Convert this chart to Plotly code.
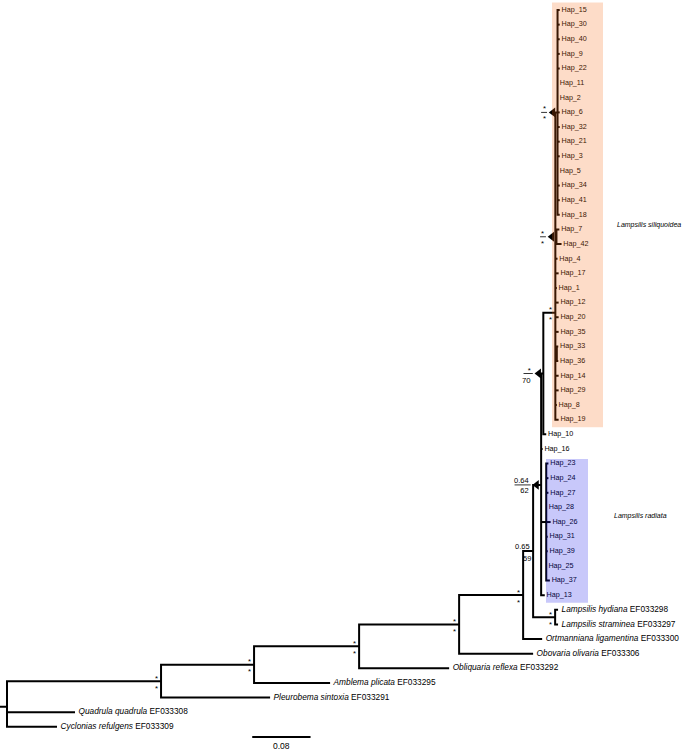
import plotly.graph_objects as go

# ---------------- data: tree topology, branch lengths (subst./site) and support ----------------
# "^" prefix marks support labels that are drawn with a pointer triangle
A_CLADE = ("(Hap_15:0.003,Hap_30:0.003,Hap_40:0.003,Hap_9:0.003,Hap_22:0.003,Hap_11:0.0005,"
           "Hap_2:0.0005,Hap_6:0.003,Hap_32:0.003,Hap_21:0.003,Hap_3:0.003,Hap_5:0.0005,"
           "Hap_34:0.003,Hap_41:0.003,Hap_18:0.003)^*/*:0.003")
C_CLADE = "(Hap_7:0.004,Hap_42:0.007)^*/*:0.0015"
D_CLADE = "(Hap_33:0.002,Hap_36:0.002):0.002"
SILIQUOIDEA = ("(" + A_CLADE + "," + C_CLADE + ",Hap_4:0.003,Hap_17:0.0045,Hap_1:0.002,Hap_12:0.0045,"
               "Hap_20:0.0045,Hap_35:0.0045," + D_CLADE + ",Hap_14:0.0045,Hap_29:0.0045,Hap_8:0.002,"
               "Hap_19:0.0045)*/*:0.0165")
N70 = "(" + SILIQUOIDEA + ",Hap_10:0.004)^*/70:0.003"
RADIATA = ("(Hap_23:0.003,Hap_24:0.003,Hap_27:0.003,Hap_28:0.001,Hap_26:0.006,Hap_31:0.002,"
           "Hap_39:0.002,Hap_25:0.0005,Hap_37:0.005):0.007")
N064 = "(" + N70 + ",Hap_16:0.002," + RADIATA + ",Hap_13:0.005)^0.64/62:0.011"
HYD_STR = "(Lampsilis_hydiana_EF033298:0.004,Lampsilis_straminea_EF033297:0.004)*/*:0.0302"
N065 = "(" + N064 + "," + HYD_STR + ")0.65/59:0.0137"
N523 = "(" + N065 + ",Ortmanniana_ligamentina_EF033300:0.0261)*/*:0.0878"
N459 = "(" + N523 + ",Obovaria_olivaria_EF033306:0.1015)*/*:0.1372"
N359 = "(" + N459 + ",Obliquaria_reflexa_EF033292:0.1235)*/*:0.1441"
N254 = "(" + N359 + ",Amblema_plicata_EF033295:0.1043)*/*:0.1276"
INGROUP = "(" + N254 + ",Pleurobema_sintoxia_EF033291:0.1496)*/*:0.2113"
TREE = "(" + INGROUP + ",Quadrula_quadrula_EF033308:0.0933,Cyclonias_refulgens_EF033309:0.0686):0.0096;"

SCALE_BAR_LENGTH = 0.08
SCALE_BAR_START = 0.346
CLADE_NAMES = ["Lampsilis siliquoidea", "Lampsilis radiata"]
CLADE_FIRST_TIP = ["Hap_15", "Hap_23"]
CLADE_LAST_TIP = ["Hap_19", "Hap_13"]

# ---------------- geometry / styling ----------------
W, H = 685, 750
PXU = 729.0      # pixels per substitution unit
ROW = 14.63      # pixels per tip row
TOP = 10.0       # pixel y of the first tip
FONT = "Liberation Sans, Arial, sans-serif"

def px_x(p):
    return p / PXU

def px_y(p):
    return p / ROW


def parse(s):
    pos = 0

    def node():
        nonlocal pos
        n = {"children": [], "label": "", "len": 0.0}
        if s[pos] == "(":
            pos += 1
            while True:
                n["children"].append(node())
                if s[pos] == ",":
                    pos += 1
                    continue
                if s[pos] == ")":
                    pos += 1
                    break
        start = pos
        while s[pos] not in ":,);":
            pos += 1
        n["label"] = s[start:pos]
        if s[pos] == ":":
            pos += 1
            start = pos
            while s[pos] not in ",);":
                pos += 1
            n["len"] = float(s[start:pos])
        return n

    return node()


root = parse(TREE)
tips = []
internals = []


def lay(n, x0):
    n["x"] = x0 + n["len"]
    if not n["children"]:
        n["y"] = float(len(tips))
        tips.append(n)
    else:
        for c in n["children"]:
            lay(c, n["x"])
        n["y"] = sum(c["y"] for c in n["children"]) / len(n["children"])
        internals.append(n)


lay(root, 0.0)

# branches
bx, by = [0.0, root["x"], None], [root["y"], root["y"], None]
for n in internals:
    ch = n["children"]
    f, l = ch[0], ch[-1]
    bx += [f["x"], n["x"], n["x"], l["x"], None]
    by += [f["y"], f["y"], l["y"], l["y"], None]
    for c in ch[1:-1]:
        bx += [n["x"], c["x"], None]
        by += [c["y"], c["y"], None]

fig = go.Figure()
fig.add_trace(go.Scatter(x=bx, y=by, mode="lines", line=dict(color="black", width=2),
                         hoverinfo="skip", showlegend=False))

# tip labels
hx, hy, ht = [], [], []
sx, sy, st = [], [], []
for t in tips:
    name = t["label"]
    if name.startswith("Hap_"):
        hx.append(t["x"] + px_x(1.8))
        hy.append(t["y"])
        ht.append(name)
    else:
        g, sp, acc = name.split("_")
        sx.append(t["x"] + px_x(3.5))
        sy.append(t["y"])
        st.append("<i>%s %s</i> %s" % (g, sp, acc))

fig.add_trace(go.Scatter(x=hx, y=hy, text=ht, mode="text", textposition="middle right",
                         textfont=dict(family=FONT, size=7.2, color="black"), cliponaxis=False,
                         hoverinfo="skip", showlegend=False))
fig.add_trace(go.Scatter(x=sx, y=sy, text=st, mode="text", textposition="middle right",
                         textfont=dict(family=FONT, size=8.3, color="black"), cliponaxis=False,
                         hoverinfo="skip", showlegend=False))

annotations = []
shapes = []
tri_x, tri_y = [], []


def ann(x, y, text, size=7.5, anchor="right"):
    annotations.append(dict(x=x, y=y, text=text, showarrow=False, xanchor=anchor, yanchor="middle",
                            align="right" if anchor == "right" else "left",
                            font=dict(family=FONT, size=size, color="black"), xref="x", yref="y"))


STAR = 7.8
NUM = 7.5
for n in internals:
    lab = n["label"]
    if not lab:
        continue
    pointer = lab.startswith("^")
    top, bot = lab.lstrip("^").split("/")
    stacked = "%s<br>%s" % (top, bot)
    if pointer:
        tri_x.append(n["x"] - px_x(4.5))
        tri_y.append(n["y"])
        right = n["x"] - px_x(10.5)
        wpx = max(len(top), len(bot)) * 3.4 + 2.5
        shapes.append(dict(type="line", x0=right - px_x(wpx), x1=right, y0=n["y"], y1=n["y"],
                           xref="x", yref="y", line=dict(color="black", width=0.8)))
        ann(right + px_x(0.5), n["y"] + px_y(1.5 if top == "*" else 0.5), stacked,
            size=STAR if top == "*" else NUM)
    else:
        right = n["x"] - px_x(1.5)
        if top == "*":
            ann(right, n["y"] + px_y(2.0), stacked, size=STAR)
        else:
            ann(right, n["y"] - px_y(4.5), top, size=NUM)
            ann(right + px_x(1.0), n["y"] + px_y(7.5), bot, size=NUM)

fig.add_trace(go.Scatter(x=tri_x, y=tri_y, mode="markers",
                         marker=dict(symbol="triangle-left", size=8.5, color="black", line=dict(width=0)),
                         hoverinfo="skip", showlegend=False))

# clade boxes (translucent overlays) and names
tip_by_name = {t["label"]: t for t in tips}
box_cols = ["rgba(246,103,16,0.23)", "rgba(16,16,233,0.23)"]
box_x0 = [552, 546]
box_x1 = [603, 588]
name_x = [615, 612]
for i, cname in enumerate(CLADE_NAMES):
    f = tip_by_name[CLADE_FIRST_TIP[i]]
    l = tip_by_name[CLADE_LAST_TIP[i]]
    shapes.append(dict(type="rect", xref="x", yref="y", layer="above",
                       x0=px_x(box_x0[i]), x1=px_x(box_x1[i]),
                       y0=f["y"] - px_y(7.5 if i == 0 else 4.5), y1=l["y"] + px_y(7.5),
                       fillcolor=box_cols[i], line=dict(width=0)))
    ann(px_x(name_x[i]), (f["y"] + l["y"]) / 2 + (px_y(10) if i == 0 else -px_y(13)),
        "<i>%s</i>" % cname, size=7.0, anchor="left")

# scale bar
ybar = px_y(737 - TOP)
fig.add_trace(go.Scatter(x=[SCALE_BAR_START, SCALE_BAR_START + SCALE_BAR_LENGTH], y=[ybar, ybar],
                         mode="lines", line=dict(color="black", width=2), hoverinfo="skip",
                         showlegend=False))
ann(SCALE_BAR_START + SCALE_BAR_LENGTH / 2, ybar + px_y(9.0), "%g" % SCALE_BAR_LENGTH, size=8.5,
    anchor="center")

fig.update_layout(
    width=W, height=H, margin=dict(l=0, r=0, t=0, b=0),
    paper_bgcolor="white", plot_bgcolor="white",
    xaxis=dict(range=[0, W / PXU], visible=False, fixedrange=True),
    yaxis=dict(range=[(H - TOP) / ROW, -TOP / ROW], visible=False, fixedrange=True),
    shapes=shapes, annotations=annotations, showlegend=False,
)
fig.write_html("out.html", config={"displayModeBar": False, "staticPlot": True},
               post_script="document.body.style.margin='0';"
                           "document.body.style.overflow='hidden';")
